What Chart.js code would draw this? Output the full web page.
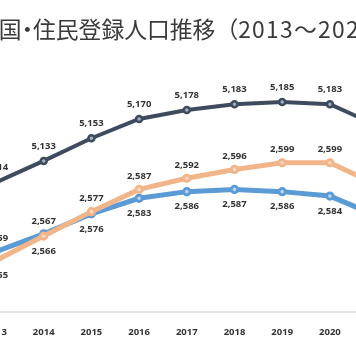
<!DOCTYPE html>
<html><head><meta charset="utf-8">
<script src="https://cdn.jsdelivr.net/npm/chart.js@4"></script>
<style>
html,body{margin:0;padding:0;width:356px;height:364px;overflow:hidden;background:#fff;position:relative;}
#wrap{position:absolute;left:-60px;top:0;width:560px;height:364px;}
#title{position:absolute;left:-24px;top:18px;font-family:"Noto Sans CJK JP";font-size:22.8px;line-height:22px;color:#3a3a3a;white-space:nowrap;font-feature-settings:"palt";}
#title .fw{font-feature-settings:normal;}
#title .num{letter-spacing:1.3px;}
</style></head><body>
<div id="wrap"><canvas id="c" width="560" height="364"></canvas></div>
<div id="title">韓国・住民登録人口推移<span class="fw">（</span><span class="num">2013〜2022年）</span></div>
<script>
const years = ['2013','2014','2015','2016','2017','2018','2019','2020','2021','2022'];
const total = [5114,5133,5153,5170,5178,5183,5185,5183,5164,5144];
const male = [2559,2567,2576,2583,2586,2587,2586,2584,2575,2564];
const female = [2555,2566,2577,2587,2592,2596,2599,2599,2589,2580];

const valueLabels = {
  id:'valueLabels',
  afterDatasetsDraw(chart){
    const ctx = chart.ctx;
    ctx.save();
    ctx.font = 'bold 9.5px "Noto Sans"';
    ctx.fillStyle = '#333';
    ctx.textAlign = 'center';
    ctx.textBaseline = 'middle';
    chart.data.datasets.forEach((ds, di) => {
      const meta = chart.getDatasetMeta(di);
      meta.data.forEach((pt, i) => {
        let above = true;
        if (ds.key === 'male') above = male[i] > female[i];
        if (ds.key === 'female') above = female[i] >= male[i];
        const off = ds.key === 'total' ? -15 : (above ? -13 : 15);
        ctx.fillText(ds.data[i].toLocaleString('en-US'), pt.x, pt.y + off);
      });
    });
    ctx.restore();
  }
};

new Chart(document.getElementById('c'), {
  type:'line',
  data:{
    labels: years,
    datasets:[
      {key:'total', data: total, yAxisID:'y', borderColor:'#3e4b5e', borderWidth:4,
       pointRadius:3, pointBorderWidth:2.5, pointBorderColor:'#3e4b5e', pointBackgroundColor:'#9fb0c6', tension:0},
      {key:'female', data: female, yAxisID:'y2', borderColor:'#f2b58a', borderWidth:5,
       pointRadius:3.2, pointBorderWidth:2.8, pointBorderColor:'#f2b58a', pointBackgroundColor:'#fbd9c0', tension:0},
      {key:'male', data: male, yAxisID:'y2', borderColor:'#5b9bd5', borderWidth:5,
       pointRadius:3.2, pointBorderWidth:2.8, pointBorderColor:'#5b9bd5', pointBackgroundColor:'#b9d6f2', tension:0}
    ]
  },
  options:{
    responsive:false, animation:false, devicePixelRatio:1,
    layout:{padding:{left:56, right:74.7, top:85, bottom:19}},
    plugins:{legend:{display:false}, title:{display:false}, tooltip:{enabled:false}},
    scales:{
      x:{type:'category', offset:false, grid:{display:false},
         border:{display:true, color:'#e6e6e6', width:2},
         ticks:{autoSkip:false, maxRotation:0, padding:7, color:'#333',
                font:{family:'Noto Sans', size:9.5, weight:'bold'}}},
      y:{display:false, min:5000, max:5200},
      y2:{display:false, min:2532, max:2634}
    }
  },
  plugins:[valueLabels]
});
</script>
</body></html>
